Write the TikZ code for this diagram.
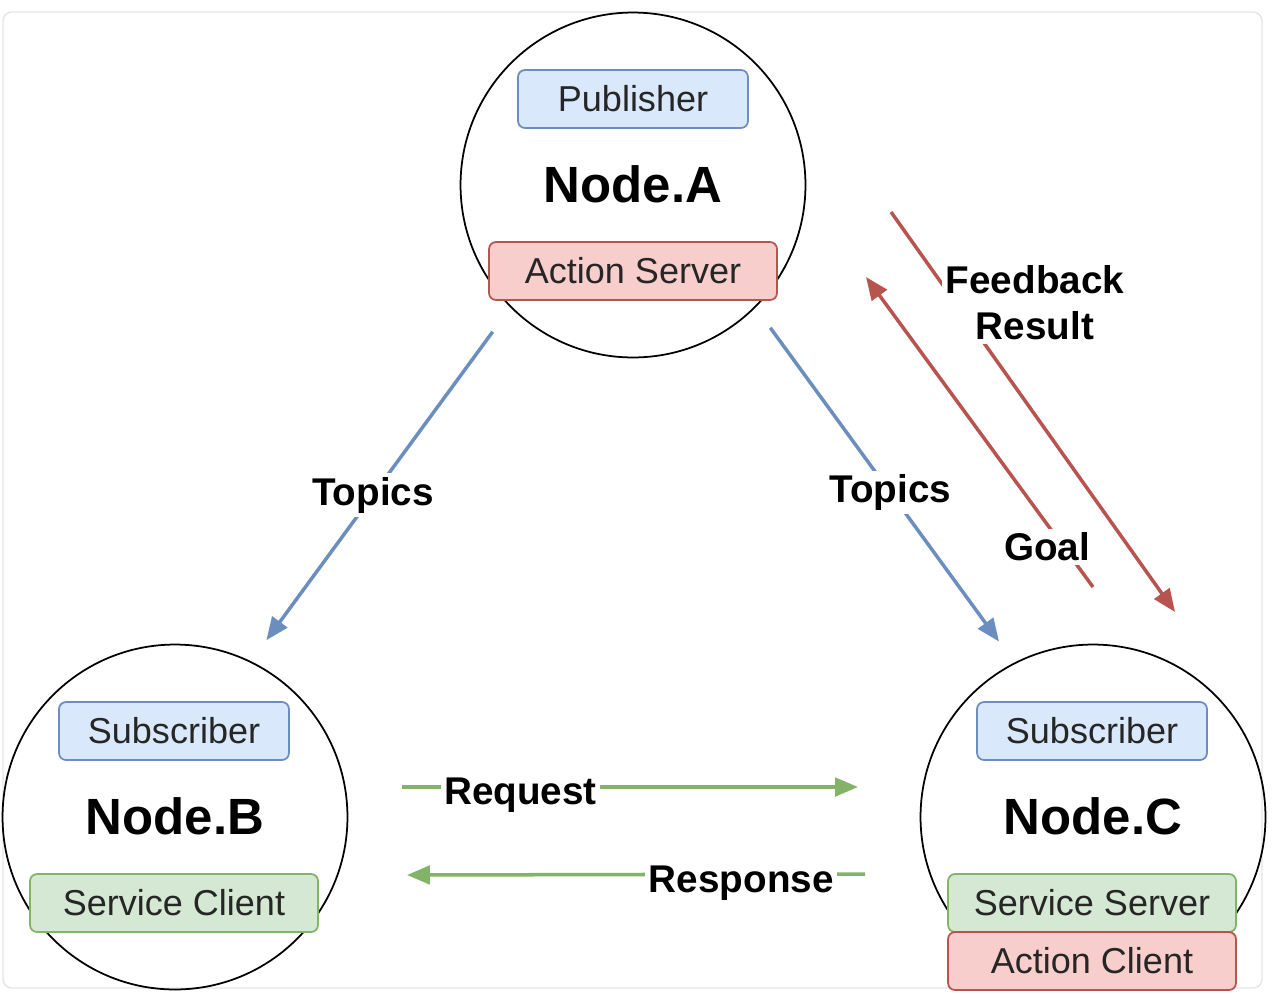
\documentclass[tikz,border=0pt]{standalone}
\usepackage{fontspec}
\setmainfont{Liberation Sans}
\definecolor{topicblue}{HTML}{6C8EBF}
\definecolor{topicfill}{HTML}{DAE8FC}
\definecolor{actred}{HTML}{B85450}
\definecolor{actfill}{HTML}{F8CECC}
\definecolor{srvgreen}{HTML}{82B366}
\definecolor{srvfill}{HTML}{D5E8D4}
\usetikzlibrary{arrows.meta, positioning}

\begin{document}
\begin{tikzpicture}[x=0.02cm, y=-0.02cm,
  rosnode/.style={draw, circle, line width=1pt, minimum size=6.9cm, inner sep=0pt, font=\bfseries\fontsize{29}{32}\selectfont},
  smallbox/.style={rounded corners=4pt, line width=1pt, minimum height=1.16cm, inner sep=0pt, text=black!85, font=\fontsize{20.5}{24}\selectfont},
  bluebox/.style={smallbox, draw=topicblue, fill=topicfill, minimum width=4.6cm},
  redbox/.style={smallbox, draw=actred, fill=actfill, minimum width=5.76cm},
  greenbox/.style={smallbox, draw=srvgreen, fill=srvfill, minimum width=5.76cm},
  topicarr/.style={draw=topicblue, line width=2pt, -{Triangle[length=13pt, width=10.5pt]}},
  actarr/.style={draw=actred, line width=2pt, -{Triangle[length=13pt, width=10.5pt]}},
  srvarr/.style={draw=srvgreen, line width=2pt, -{Triangle[length=13pt, width=10.5pt]}},
  lbl/.style={fill=white, inner sep=2pt, font=\bfseries\fontsize{22}{26}\selectfont}]
  \useasboundingbox (0,0) rectangle (1273,998);
  % frame
  \draw[black!10, line width=0.8pt, rounded corners=5pt] (3,12) rectangle (1262,988);

  % the three nodes
  \node[rosnode] (circA) at (633,185) {\raisebox{1.5pt}{Node.A}};
  \node[rosnode] (circB) at (175,817) {\raisebox{1.5pt}{Node.B}};
  \node[rosnode] (circC) at (1093,817) {\raisebox{1.5pt}{Node.C}};

  % parts inside Node.A
  \node[bluebox] (pubA) at (633,99) {Publisher};
  \node[redbox] (actsrvA) at (633,271) {Action Server};

  % parts inside Node.B
  \node[bluebox] (subB) at (174,731) {Subscriber};
  \node[greenbox] (cliB) at (174,903) {Service Client};

  % parts inside Node.C
  \node[bluebox] (subC) at (1092,731) {Subscriber};
  \node[greenbox] (srvC) at (1092,903) {Service Server};
  \node[redbox] (actcliC) at (1092,961) {Action Client};

  % topics
  \draw[topicarr, shorten <=0.6cm, shorten >=0.52cm] (circA.225) -- node[lbl, pos=0.53] (lblTopB) {Topics} (circB.64);
  \draw[topicarr, shorten <=0.5cm, shorten >=0.52cm] (circA.315) -- node[lbl, pos=0.52] (lblTopC) {Topics} (circC.117);

  % action
  \coordinate (fbA) at (891,212);
  \coordinate (fbC) at (1175,612);
  \coordinate (goalC) at (1093,587);
  \coordinate (goalA) at (866,277);
  \draw[actarr] (fbA) -- (fbC);
  \draw[actarr] (goalC) -- (goalA);
  \node[lbl, align=center] (lblFb) at (1035,303) {Feedback\\Result};
  \node[lbl] (lblGoal) at (1047,547) {Goal};

  % service
  \coordinate (reqB) at (402,787);
  \coordinate (reqC) at (858,787);
  \coordinate (resC) at (865,874);
  \coordinate (resB) at (407,875);
  \draw[srvarr] (reqB) -- node[lbl, pos=0.26, yshift=-0.16cm] (lblReq) {Request} (reqC);
  \draw[srvarr] (resC) -- node[lbl, pos=0.27, yshift=-0.18cm] (lblRes) {Response} (resB);
\end{tikzpicture}
\end{document}
